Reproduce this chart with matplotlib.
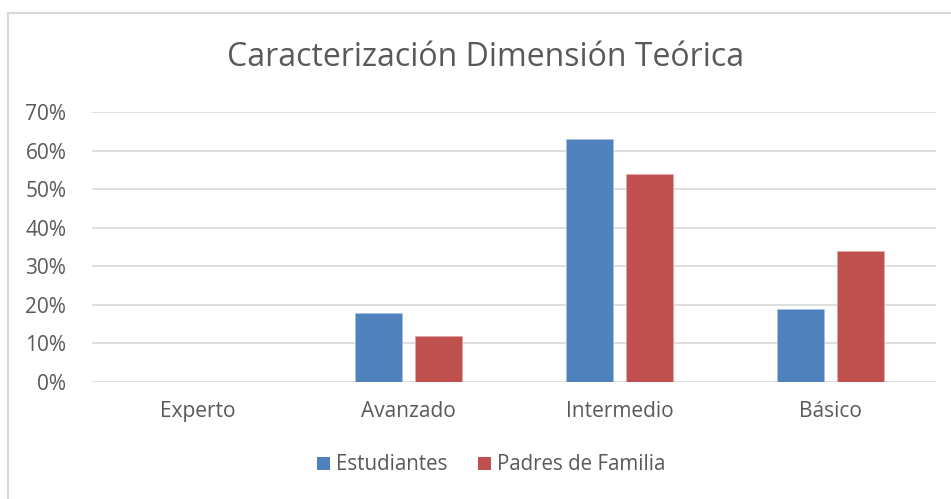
import matplotlib
matplotlib.use("Agg")
import matplotlib.pyplot as plt
import numpy as np
from matplotlib.lines import Line2D
from matplotlib.patches import Patch

categories = ["Experto", "Avanzado", "Intermedio", "Básico"]
estudiantes = [0.00, 0.18, 0.63, 0.19]
padres = [0.00, 0.12, 0.54, 0.34]
series_names = ["Estudiantes", "Padres de Familia"]
colors = ["#4F81BD", "#C0504D"]
yticks = [0, 0.1, 0.2, 0.3, 0.4, 0.5, 0.6, 0.7]
ytick_labels = ["0%", "10%", "20%", "30%", "40%", "50%", "60%", "70%"]

plt.rcParams['font.family'] = ['Open Sans', 'DejaVu Sans']
W, H = 951, 499
fig = plt.figure(figsize=(W/100, H/100), dpi=100)
ax = fig.add_axes([92/W, 1-382/H, (936-92)/W, (382-112)/H])

x = np.arange(len(categories))
off = 30/211
bw = 47/211
ax.bar(x - off, estudiantes, bw, color=colors[0], edgecolor="#a9c1e0", linewidth=0.6, zorder=3)
ax.bar(x + off, padres, bw, color=colors[1], edgecolor="#e0a9a8", linewidth=0.6, zorder=3)

ax.set_xlim(-0.5, len(categories) - 0.5)
ax.set_ylim(0, 0.7)
ax.set_yticks(yticks)
ax.set_yticklabels(ytick_labels)
ax.set_xticks(x)
ax.set_xticklabels(categories)
ax.grid(axis='y', color="#d9d9d9", linewidth=1.2, zorder=0)
for s in ax.spines.values():
    s.set_visible(False)
ax.tick_params(axis='both', length=0, colors="#595959", labelsize=15)
ax.tick_params(axis='y', pad=18.5)
ax.tick_params(axis='x', pad=14)

fig.text(486/W, 1-57/H, "Caracterización Dimensión Teórica", ha='center', va='center',
         fontsize=23, color="#595959")

handles = [Patch(facecolor=colors[0]), Patch(facecolor=colors[1])]
fig.legend(handles, series_names, loc='center', bbox_to_anchor=(491/W, 1-465/H), ncol=2,
           frameon=False, fontsize=14.8, labelcolor="#595959", handlelength=0.62, handleheight=0.62,
           handletextpad=0.3, columnspacing=1.5)

# chart border
fig.add_artist(Line2D([8/W, 8/W], [0, 1-13/H], color="#d9d9d9", linewidth=1.5, transform=fig.transFigure))
fig.add_artist(Line2D([8/W, 1], [1-13/H, 1-13/H], color="#d9d9d9", linewidth=1.5, transform=fig.transFigure))

fig.savefig("out.png", dpi=100)
